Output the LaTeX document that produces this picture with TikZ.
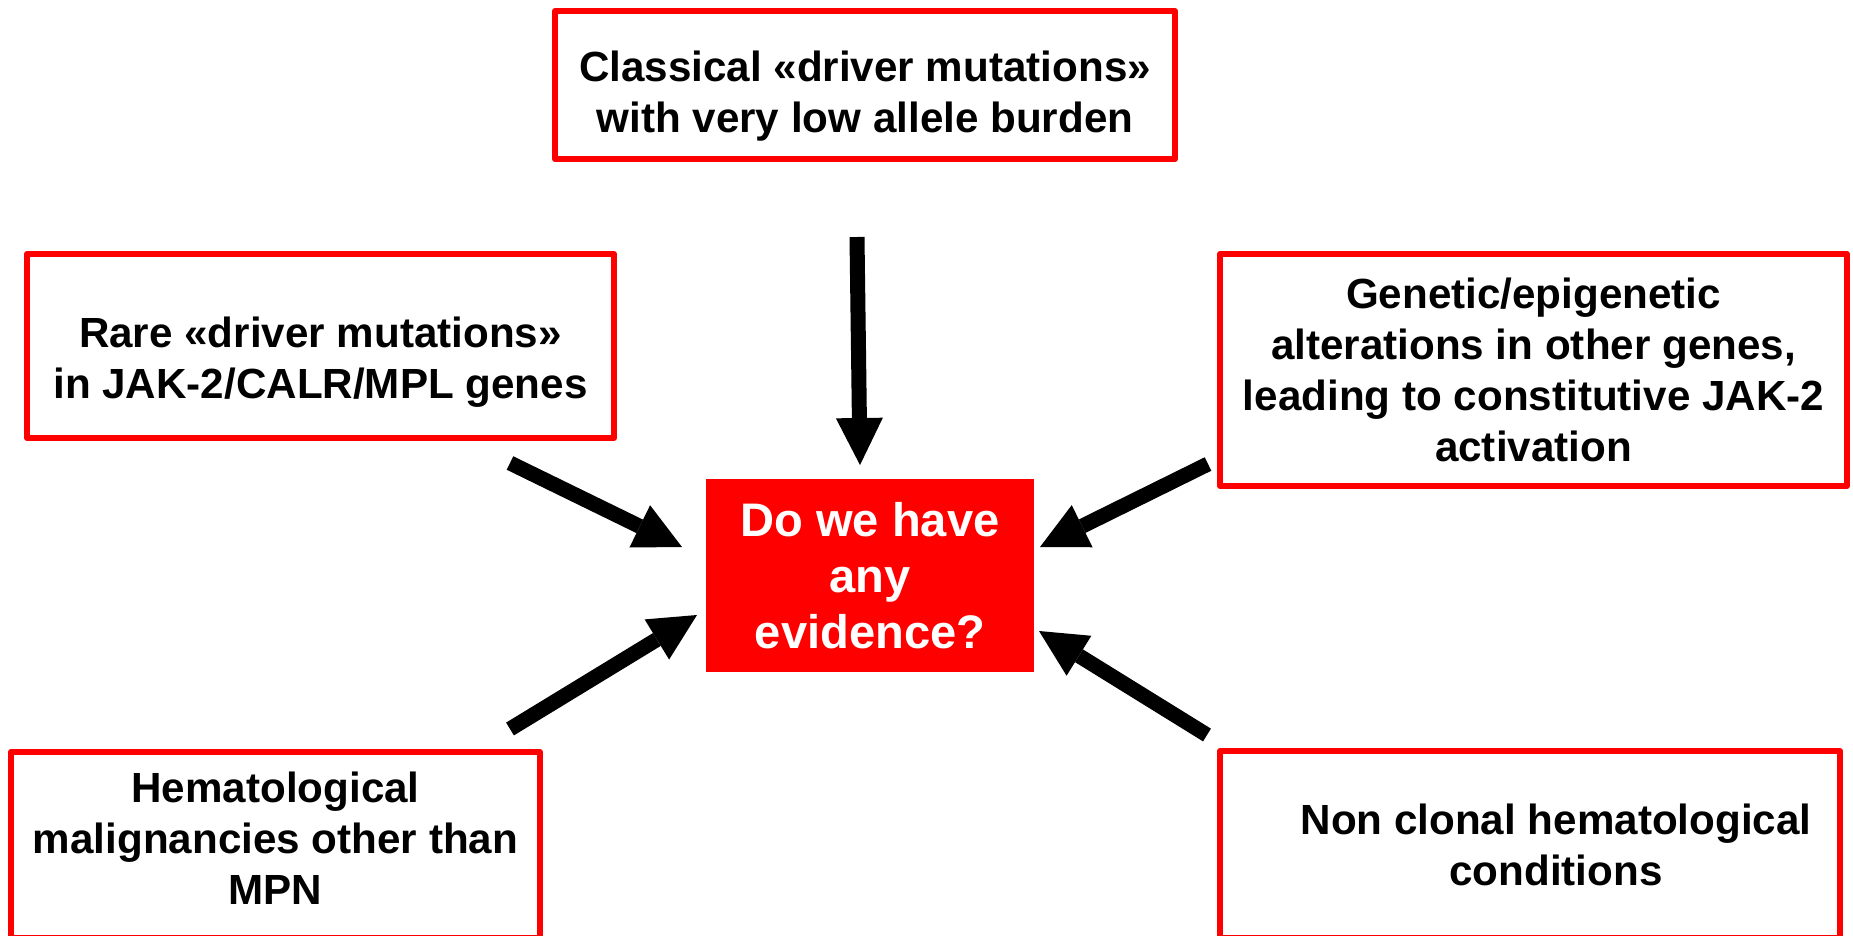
\documentclass[tikz,border=0pt]{standalone}
\usepackage{fontspec}
\setmainfont{Liberation Sans}
\usepackage{xcolor}
\definecolor{accent}{RGB}{255,0,0}
\usepackage{tikz}
\usetikzlibrary{arrows.meta,positioning,calc}
\tikzset{
  box/.style={draw=accent,line width=0.6mm,fill=white,line join=round,%
    font=\fontsize{12}{14.5}\selectfont\bfseries,inner sep=0pt,outer sep=0pt,align=center},
  hub/.style={fill=accent,text=white,inner sep=0pt,outer sep=0pt,%
    font=\fontsize{13.4}{15.9}\selectfont\bfseries,align=center},
  flow/.style={-{Triangle[width=4.7mm,length=4.7mm,line width=0pt]},line width=1.5mm,draw=black},
}

\begin{document}
\begin{tikzpicture}
\useasboundingbox (0,0) rectangle (18.53,-9.35);
\node[hub,minimum width=32.8mm,minimum height=19.3mm] (q) at (8.70,-5.755) {Do we have\\any\\evidence?};
\node[box,minimum width=62mm,minimum height=14.8mm] (top) at (8.65,-0.85)
  {\rule{0pt}{14.9pt}Classical «driver mutations»\\with very low allele burden};
\node[box,minimum width=58.7mm,minimum height=18.4mm] (lt) at (3.205,-3.46)
  {\rule{0pt}{17.7pt}Rare «driver mutations»\\in JAK-2/CALR/MPL genes};
\node[box,minimum width=62.7mm,minimum height=23.2mm] (rt) at (15.335,-3.70)
  {Genetic/epigenetic\\alterations in other genes,\\leading to constitutive JAK-2\\activation};
\node[box,minimum width=52.9mm,minimum height=18.6mm] (lb) at (2.755,-8.45)
  {Hematological\\malignancies other than\\MPN\rule[-4pt]{0pt}{4pt}};
\node[box,minimum width=62mm,minimum height=18.7mm] (rb) at (15.30,-8.445)
  {\hspace*{5.2mm}Non clonal hematological\\\hspace*{5.2mm}conditions};
% arrows towards the question
\draw[flow] ([xshift=-0.8mm,yshift=-7.8mm]top.south) -- ([xshift=-1mm,yshift=1.4mm]q.north);
\draw[flow] ([xshift=-10.4mm,yshift=-2.5mm]lt.south east) -- ([xshift=-2.4mm,yshift=2.85mm]q.west);
\draw[flow] ([xshift=-3mm,yshift=2.3mm]lb.north east) -- ([xshift=-0.9mm,yshift=-3.95mm]q.west);
\draw[flow] ([xshift=-1.2mm,yshift=2.2mm]rt.south west) -- ([xshift=0.6mm,yshift=2.85mm]q.east);
\draw[flow] ([xshift=-1.3mm,yshift=1.6mm]rb.north west) -- ([xshift=0.5mm,yshift=-5.55mm]q.east);
\end{tikzpicture}
\end{document}
